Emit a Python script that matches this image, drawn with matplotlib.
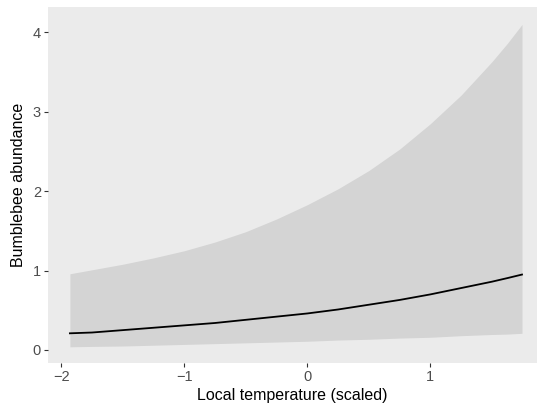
import matplotlib
matplotlib.use("Agg")
import matplotlib.pyplot as plt

plt.rcParams["font.family"] = ["Liberation Sans", "DejaVu Sans"]

# model predictions
temp = [-1.93, -1.75, -1.5, -1.25, -1.0, -0.75, -0.5, -0.25, 0.0,
        0.25, 0.5, 0.75, 1.0, 1.25, 1.5, 1.625, 1.745]
abund = [0.21, 0.22, 0.25, 0.28, 0.31, 0.34, 0.38, 0.42, 0.46,
         0.51, 0.57, 0.63, 0.70, 0.78, 0.86, 0.905, 0.95]
upper = [0.96, 1.01, 1.08, 1.16, 1.25, 1.36, 1.49, 1.65, 1.83,
         2.03, 2.26, 2.53, 2.85, 3.21, 3.63, 3.86, 4.10]
lower = [0.04, 0.045, 0.05, 0.06, 0.07, 0.08, 0.09, 0.10, 0.11,
         0.125, 0.135, 0.15, 0.16, 0.18, 0.195, 0.20, 0.21]

xticks = [-2, -1, 0, 1]
yticks = [0, 1, 2, 3, 4]

fig = plt.figure(figsize=(5.38, 4.12), dpi=100)
ax = fig.add_axes([48 / 538, 49 / 412, 489 / 538, 356 / 412])
ax.set_facecolor("#EBEBEB")

ax.fill_between(temp, lower, upper, color="#D4D4D4", linewidth=0)
ax.plot(temp, abund, color="black", linewidth=1.3)

ax.set_xlim(-2.108, 1.867)
ax.set_ylim(-0.164, 4.32)
ax.set_xticks(xticks)
ax.set_yticks(yticks)
ax.tick_params(colors="#333333", labelcolor="#4D4D4D", labelsize=10.5,
               length=3, width=0.8, pad=2)
for s in ax.spines.values():
    s.set_visible(False)

ax.set_xlabel("Local temperature (scaled)", fontsize=11.5, color="black", labelpad=3)
ax.set_ylabel("Bumblebee abundance", fontsize=11.5, color="black", labelpad=5)

fig.savefig("out.png", dpi=100, facecolor="white")
